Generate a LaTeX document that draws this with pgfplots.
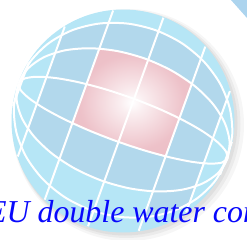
\documentclass[border=0pt]{standalone}
\usepackage{fontspec}
\setmainfont{Liberation Serif}
\usepackage{pgfplots}
\pgfplotsset{compat=1.18}
\definecolor{cellDark}{RGB}{178,216,236}
\definecolor{cellLight}{RGB}{182,230,246}
\definecolor{pinkEdge}{RGB}{236,188,196}
\definecolor{cornerBlue}{RGB}{172,212,238}
\definecolor{txtBlue}{RGB}{8,8,252}
\pgfdeclareradialshading{pinkglow}{\pgfpoint{0bp}{0bp}}{color(0bp)=(white); color(5bp)=(white!75!pinkEdge); color(22bp)=(pinkEdge!92!white); color(34bp)=(pinkEdge); color(50bp)=(pinkEdge)}
\begin{document}
\begin{tikzpicture}
\begin{axis}[name=ax, width=247bp, height=240bp, scale only axis,
  xmin=0, xmax=247, ymin=0, ymax=240, y dir=reverse, hide axis, clip=false]
% soft shadow
\fill[black, opacity=0.035] (axis cs:128,125) circle[radius=116];
\fill[black, opacity=0.045] (axis cs:126.5,124) circle[radius=114];
\fill[black, opacity=0.05] (axis cs:125,123) circle[radius=112.5];
% disc
\fill[cellLight] (axis cs:123,121) circle[radius=111.5];
% corner shape
\addplot[draw=none, fill=cornerBlue] coordinates {(231,0) (247,0) (247,18)};
% dark cells region
\addplot[draw=none, fill=cellDark] coordinates {
(61.77,34.98) (72.43,30.15) (99.25,23.56) (127.69,23.59) (155.81,30.28)
(181.71,43.13) (203.59,61.30) (219.99,83.53) (227.01,99.04)
(189.24,203.45) (174.00,210.66) (147.27,217.00) (143.54,217.35)
(152.96,191.29) (129.21,188.29) (101.46,180.55) (75.19,168.75)
(52.18,153.70) (33.99,136.41) (27.93,128.53)};
% pink cells
\addplot[draw=none, shading=pinkglow] coordinates {
(99.30,48.67) (117.72,51.15) (145.50,58.79) (171.74,70.69) (191.85,83.80)
(165.62,156.30) (143.05,150.00) (115.80,140.91) (89.03,130.46) (72.38,123.09)};
% parallels
\addplot[white, line width=2pt] coordinates {(28.8,62.4) (13.0,105.8)};
\addplot[white, line width=2pt] coordinates {(64.8,26.5) (17.8,156.5)};
\addplot[white, line width=2pt] coordinates {(113.1,10.5) (44.7,199.7)};
\addplot[white, line width=2pt] coordinates {(163.4,17.7) (88.0,226.3)};
\addplot[white, line width=2pt] coordinates {(205.3,46.6) (138.7,230.8)};
\addplot[white, line width=2pt] coordinates {(229.9,91.1) (186.1,212.3)};
\addplot[white, line width=2pt] coordinates {(231.9,141.9) (220.1,174.7)};
% meridians
\addplot[white, line width=2pt, smooth] coordinates {
(18.66,83.26) (30.70,61.07) (49.05,42.96) (72.43,30.15) (99.25,23.56) (127.69,23.59)
(155.81,30.28) (181.71,43.13) (203.59,61.30) (219.99,83.53) (229.77,108.32) (232.28,133.97) (227.34,158.74)};
\addplot[white, line width=2pt, smooth] coordinates {
(18.66,83.26) (28.03,68.45) (43.89,57.22) (65.13,50.32) (90.32,48.26) (117.72,51.15)
(145.50,58.79) (171.74,70.69) (194.66,86.00) (212.69,103.70) (224.61,122.58) (229.61,141.35) (227.34,158.74)};
\addplot[white, line width=2pt, smooth] coordinates {
(18.66,83.26) (24.37,78.57) (36.82,76.77) (55.13,77.96) (78.07,82.12) (104.07,88.90)
(131.36,97.89) (158.09,108.44) (182.41,119.86) (202.69,131.34) (217.54,142.13) (225.95,151.47) (227.34,158.74)};
\addplot[white, line width=2pt, smooth] coordinates {
(18.66,83.26) (20.35,89.70) (29.04,98.27) (44.13,108.39) (64.59,119.37) (89.03,130.46)
(115.80,140.91) (143.05,150.00) (168.93,157.11) (191.69,161.77) (209.76,163.63) (221.93,162.60) (227.34,158.74)};
\addplot[white, line width=2pt, smooth] coordinates {
(18.66,83.26) (16.63,99.97) (21.87,118.09) (33.99,136.41) (52.18,153.70) (75.19,168.75)
(101.46,180.55) (129.21,188.29) (156.52,191.44) (181.55,189.79) (202.59,183.45) (218.21,172.87) (227.34,158.74)};
\addplot[white, line width=2pt, smooth] coordinates {
(18.66,83.26) (13.87,107.60) (16.53,132.85) (26.44,157.28) (42.93,179.26) (64.88,197.25)
(90.79,210.06) (118.90,216.79) (147.27,217.00) (174.00,210.66) (197.25,198.21) (215.45,180.50) (227.34,158.74)};
% text
\node[anchor=base west, inner sep=0pt, text=txtBlue, font=\fontsize{32}{32}\selectfont\itshape] at (axis cs:-13,222) {EU double water con};
\end{axis}
\pgfresetboundingbox
\path[use as bounding box] (ax.south west) rectangle (ax.north east);
\end{tikzpicture}
\end{document}
